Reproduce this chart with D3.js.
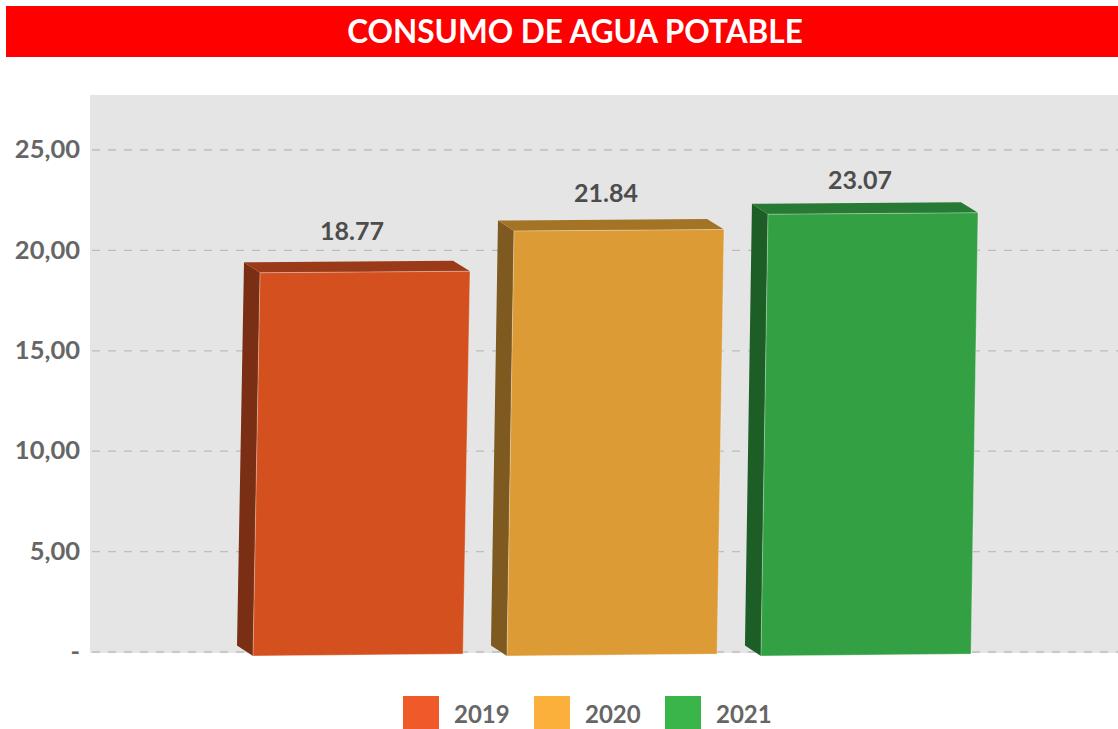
<!DOCTYPE html>
<html>
<head>
<meta charset="utf-8">
<script src="https://cdn.jsdelivr.net/npm/d3@7"></script>
<style>
  body { margin: 0; background: #fff; }
  svg { display: block; font-family: Lato, "Open Sans", sans-serif; }
</style>
</head>
<body>
<div id="chart"></div>
<script>
// data
var years = ["2019", "2020", "2021"];
var values = [18.77, 21.84, 23.07];
var yTicks = [0, 5, 10, 15, 20, 25];
var tickLabels = ["-", "5,00", "10,00", "15,00", "20,00", "25,00"];
var title = "CONSUMO DE AGUA POTABLE";

// colours of the faces and of the legend
var frontColors = ["#d4501f", "#dc9b35", "#33a043"];
var sideColors = ["#7a2e14", "#7e5a21", "#1c5e26"];
var topColors = ["#9a3a19", "#a37326", "#267a33"];
var legendColors = ["#f05a28", "#fbb03b", "#39b54a"];

var width = 1118, height = 729;

var svg = d3.select("#chart").append("svg")
  .attr("width", width)
  .attr("height", height);

// title bar
svg.append("rect")
  .attr("x", 6).attr("y", 6)
  .attr("width", width - 6).attr("height", 51)
  .attr("fill", "#ff0000");

svg.append("text")
  .attr("x", 575).attr("y", 43)
  .attr("text-anchor", "middle")
  .attr("fill", "#fff")
  .style("font-size", "31.5px")
  .style("font-weight", "bold")
  .text(title);

// plot area
var plot = {left: 90, right: width, top: 95, bottom: 653};

svg.append("rect")
  .attr("x", plot.left).attr("y", plot.top)
  .attr("width", plot.right - plot.left)
  .attr("height", plot.bottom - plot.top)
  .attr("fill", "#e5e5e5");

// value axis used for the grid
var y = d3.scaleLinear()
  .domain([0, 25])
  .range([651.5, 149.5]);

var yAxis = svg.append("g")
  .attr("transform", "translate(" + plot.left + ",0)")
  .call(d3.axisLeft(y)
    .tickValues(yTicks)
    .tickSize(-(plot.right - plot.left))
    .tickPadding(10)
    .tickFormat(function(d, i) { return tickLabels[i]; }));

yAxis.select(".domain").remove();
yAxis.selectAll(".tick line")
  .attr("stroke", "#bdbdbd")
  .attr("stroke-width", 1.3)
  .attr("stroke-dasharray", "8,8")
  .attr("transform", "translate(2,0)");
yAxis.selectAll(".tick text")
  .attr("fill", "#666")
  .style("font-size", "25.5px")
  .style("font-weight", "bold")
  .style("font-family", "Lato, sans-serif");

// 3D bars: the perspective view shrinks heights, so the bars get their own scale
var floorY = 656;
var barY = d3.scaleLinear()
  .domain([0, 25])
  .range([528, 188]);

var x = d3.scaleBand()
  .domain(years)
  .range([253, 971])
  .paddingInner(0.173)
  .paddingOuter(0);

var skew = 7, depthX = -16, depthY = -10.5;

function pts(a) {
  return a.map(function(p) { return p[0] + "," + p[1]; }).join(" ");
}

var bars = svg.append("g").selectAll("g")
  .data(values)
  .enter().append("g");

bars.each(function(v, i) {
  var g = d3.select(this);
  var x0 = x(years[i]);
  var w = x.bandwidth();
  var yt = barY(v);

  var fTL = [x0 + skew, yt];
  var fTR = [x0 + w + skew, yt - 1.5];
  var fBR = [x0 + w, floorY - 2];
  var fBL = [x0, floorY];
  var bTL = [fTL[0] + depthX, fTL[1] + depthY];
  var bTR = [fTR[0] + depthX - 1, fTR[1] + depthY];
  var bBL = [fBL[0] + depthX, fBL[1] + depthY];

  g.append("polygon")
    .attr("points", pts([bTL, fTL, fBL, bBL]))
    .attr("fill", sideColors[i]);

  g.append("polygon")
    .attr("points", pts([bTL, bTR, fTR, fTL]))
    .attr("fill", topColors[i]);

  g.append("polygon")
    .attr("points", pts([fTL, fTR, fBR, fBL]))
    .attr("fill", frontColors[i])
    .attr("stroke", "#ffffff")
    .attr("stroke-opacity", 0.35)
    .attr("stroke-width", 1);

  g.append("text")
    .attr("x", x0 + w / 2 - 6)
    .attr("y", yt - 33 + i * 4)
    .attr("text-anchor", "middle")
    .attr("fill", "#4d4d4d")
    .style("font-size", "25px")
    .style("font-weight", "bold")
    .text(v.toFixed(2));
});

// legend
var legend = svg.append("g").selectAll("g")
  .data(years)
  .enter().append("g")
  .attr("transform", function(d, i) { return "translate(" + (403 + i * 131) + ",696)"; });

legend.append("rect")
  .attr("width", 36).attr("height", 33)
  .attr("fill", function(d, i) { return legendColors[i]; });

legend.append("text")
  .attr("x", 51).attr("y", 27)
  .attr("fill", "#666")
  .style("font-size", "24px")
  .style("font-weight", "bold")
  .text(function(d) { return d; });
</script>
</body>
</html>
